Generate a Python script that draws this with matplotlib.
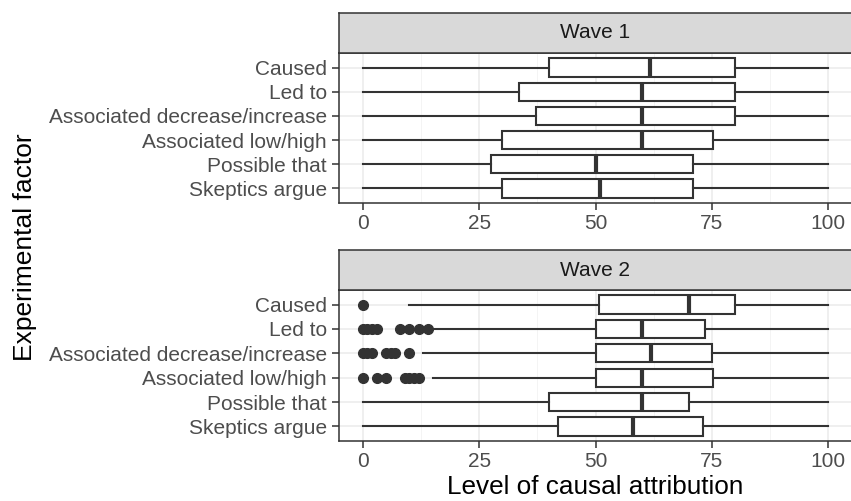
import matplotlib
matplotlib.use('Agg')
import matplotlib.pyplot as plt
import matplotlib.ticker as ticker

plt.rcParams['font.family'] = ['Liberation Sans', 'DejaVu Sans']

# categories, top to bottom
categories = ['Caused', 'Led to', 'Associated decrease/increase',
              'Associated low/high', 'Possible that', 'Skeptics argue']

# Wave 1 box statistics
w1_whislo = [0, 0, 0, 0, 0, 0]
w1_q1 = [40, 33.6, 37.2, 30, 27.5, 30]
w1_med = [61.6, 60, 60, 60, 50, 51]
w1_q3 = [80, 80, 80, 75.3, 71, 71]
w1_whishi = [100, 100, 100, 100, 100, 100]
w1_fliers = [[], [], [], [], [], []]

# Wave 2 box statistics
w2_whislo = [10, 15, 13, 15, 0, 0]
w2_q1 = [50.8, 50, 50, 50, 40, 42]
w2_med = [70, 60, 62, 60, 60, 58]
w2_q3 = [80, 73.6, 75, 75.3, 70, 73]
w2_whishi = [100, 100, 100, 100, 100, 100]
w2_fliers = [[0],
             [0, 1, 2, 3, 8, 10, 12, 14],
             [0, 1, 2, 5, 6, 7, 10],
             [0, 3, 5, 9, 10, 11, 12],
             [], []]

x_ticks = [0, 25, 50, 75, 100]
panel_titles = ['Wave 1', 'Wave 2']

W, H = 851, 501
dark = '#333333'
fig = plt.figure(figsize=(W / 100, H / 100), dpi=100)


def fr(x0, y0, x1, y1):
    # pixel box -> figure fraction rect
    return [x0 / W, 1 - y1 / H, (x1 - x0) / W, (y1 - y0) / H]


def draw_panel(rect, strip_rect, title, whislo, q1, med, q3, whishi, fliers):
    ax = fig.add_axes(rect)
    stats = []
    for i in range(len(categories)):
        stats.append(dict(whislo=whislo[i], q1=q1[i], med=med[i], q3=q3[i],
                          whishi=whishi[i], fliers=fliers[i], label=categories[i]))
    n = len(categories)
    pos = list(range(n, 0, -1))
    ax.bxp(stats, positions=pos, vert=False, widths=0.75, showcaps=False,
           patch_artist=True,
           boxprops=dict(facecolor='white', edgecolor=dark, linewidth=1.5),
           medianprops=dict(color=dark, linewidth=3.0, solid_capstyle='butt'),
           whiskerprops=dict(color=dark, linewidth=1.5),
           flierprops=dict(marker='o', markerfacecolor=dark, markeredgecolor=dark,
                           markersize=7, linestyle='none'),
           zorder=3)
    ax.set_xlim(-5, 105)
    ax.set_ylim(0.4, n + 0.6)
    ax.set_yticks(pos)
    ax.set_yticklabels(categories)
    ax.xaxis.set_major_locator(ticker.FixedLocator(x_ticks))
    ax.xaxis.set_minor_locator(ticker.FixedLocator([12.5, 37.5, 62.5, 87.5]))
    ax.grid(True, which='major', color='#EBEBEB', linewidth=1.1, zorder=0)
    ax.grid(True, which='minor', axis='x', color='#F2F2F2', linewidth=0.6, zorder=0)
    ax.set_axisbelow(True)
    for s in ax.spines.values():
        s.set_color(dark)
        s.set_linewidth(1.1)
    ax.tick_params(axis='both', which='major', color=dark, width=1.1, length=5,
                   labelcolor='#4D4D4D', labelsize=15)
    ax.tick_params(axis='y', pad=4)
    ax.tick_params(axis='x', pad=3)
    ax.tick_params(axis='x', which='minor', length=0)

    sx = fig.add_axes(strip_rect)
    sx.set_facecolor('#D9D9D9')
    sx.set_xticks([])
    sx.set_yticks([])
    for s in sx.spines.values():
        s.set_color(dark)
        s.set_linewidth(1.1)
    sx.text(0.5, 0.5, title, ha='center', va='center', fontsize=15,
            color='#1A1A1A', transform=sx.transAxes)
    return ax


ax1 = draw_panel(fr(339.4, 53, 851.6, 203), fr(339.4, 13, 851.6, 53), panel_titles[0],
                 w1_whislo, w1_q1, w1_med, w1_q3, w1_whishi, w1_fliers)
ax2 = draw_panel(fr(339.4, 290, 851.6, 441), fr(339.4, 250, 851.6, 290), panel_titles[1],
                 w2_whislo, w2_q1, w2_med, w2_q3, w2_whishi, w2_fliers)

fig.text(595 / W, 1 - 487 / H, 'Level of causal attribution', ha='center', va='center',
         fontsize=18.8, color='black')
fig.text(25 / W, 1 - 247 / H, 'Experimental factor', ha='center', va='center',
         rotation=90, fontsize=19, color='black')

fig.savefig('out.png', dpi=100)
